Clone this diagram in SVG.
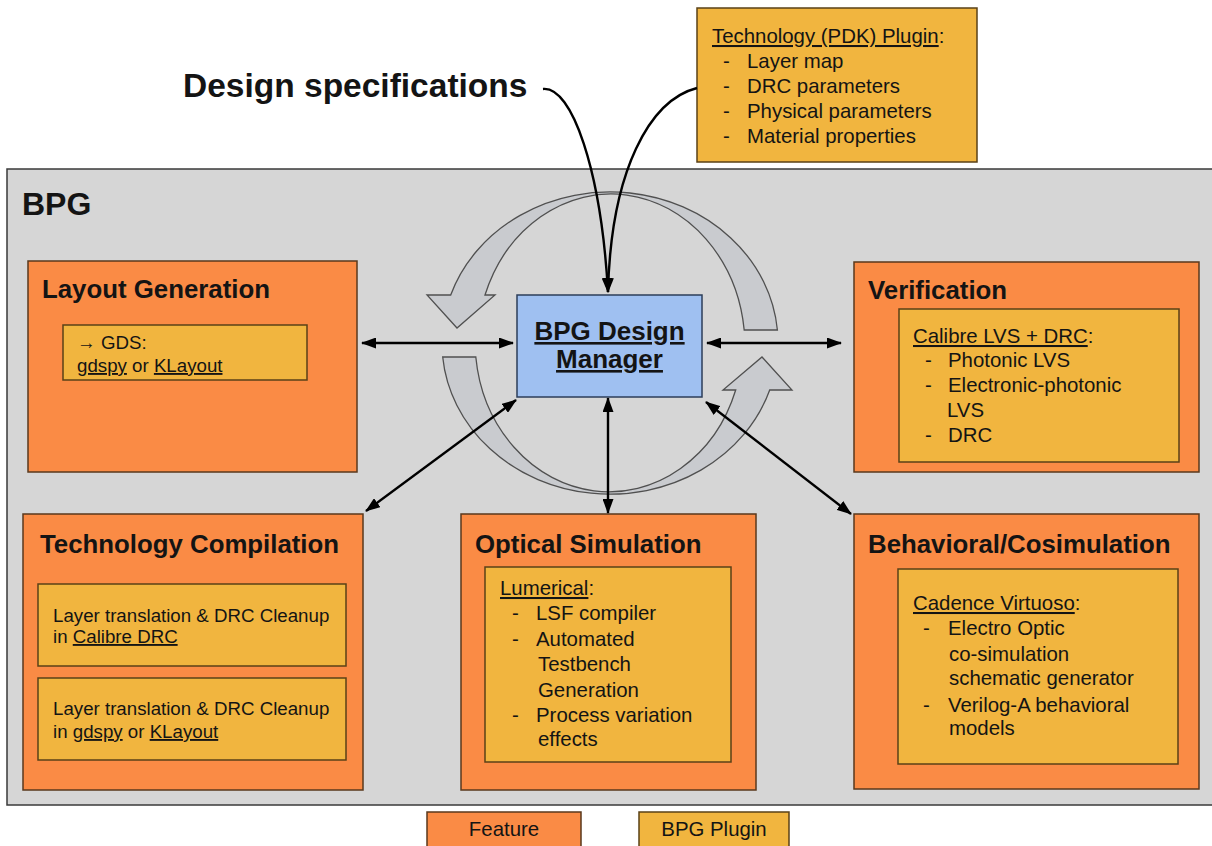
<svg xmlns="http://www.w3.org/2000/svg" width="1212" height="846" viewBox="0 0 1212 846">
<style>
text{font-family:"Liberation Sans",Arial,sans-serif;fill:#141414}
.t{font-weight:bold;font-size:25.8px}
.b{font-size:20.4px}
.s{font-size:18.7px}
.u{text-decoration:underline}
.feat{fill:#fa8b45;stroke:#5a391d;stroke-width:1.5}
.plug{fill:#f1b53f;stroke:#5a4117;stroke-width:1.5}
.ring{fill:#c9cbcf;stroke:#505050;stroke-width:1.3}
.con{fill:none;stroke:#000;stroke-width:2.4}
</style>
<defs>
<marker id="ah" viewBox="0 0 15 11" refX="14" refY="5.5" markerWidth="15" markerHeight="11" markerUnits="userSpaceOnUse" orient="auto-start-reverse">
<path d="M0,0 L15,5.5 L0,11 z" fill="#000"/>
</marker>
</defs>
<rect width="1212" height="846" fill="#fff"/>

<g id="bpg">
<rect x="7" y="169" width="1215" height="636" fill="#d6d6d6" stroke="#3a3a3a" stroke-width="1.5"/>
<text x="22" y="215" style="font-weight:bold;font-size:32px">BPG</text>
</g>

<g id="design-specs">
<text x="183" y="97" style="font-weight:bold;font-size:33.5px">Design specifications</text>
</g>

<g id="pdk-plugin">
<rect class="plug" x="697" y="8" width="280" height="154"/>
<text class="b" x="712" y="43"><tspan class="u">Technology (PDK) Plugin</tspan>:</text>
<text class="b" x="723" y="68">-</text><text class="b" x="747" y="68">Layer map</text>
<text class="b" x="723" y="93">-</text><text class="b" x="747" y="93">DRC parameters</text>
<text class="b" x="723" y="118">-</text><text class="b" x="747" y="118">Physical parameters</text>
<text class="b" x="723" y="143">-</text><text class="b" x="747" y="143">Material properties</text>
</g>

<g id="cycle-arrows">
<path class="ring" d="M777.4,330 A168,151 0 0 0 450.7,295 L427,295 L457,328 L495,295 L485,295 A134,153 0 0 1 744.2,330 Z"/>
<path class="ring" d="M442.7,357 A168,151 0 0 0 769.7,390 L792,390 L762,357 L723,390 L735.7,390 A134,151 0 0 1 475.8,357 Z"/>
</g>

<g id="layout-generation">
<rect class="feat" x="28" y="261" width="329" height="211"/>
<text class="t" x="42" y="298">Layout Generation</text>
<rect class="plug" x="63" y="325" width="244" height="55"/>
<text class="s" x="77" y="349">→ GDS:</text>
<text class="s" x="77" y="372"><tspan class="u">gdspy</tspan> or <tspan class="u">KLayout</tspan></text>
</g>

<g id="verification">
<rect class="feat" x="854" y="262" width="345" height="210"/>
<text class="t" x="868" y="299">Verification</text>
<rect class="plug" x="899" y="309" width="280" height="153"/>
<text class="b" x="913" y="343"><tspan class="u">Calibre LVS + DRC</tspan>:</text>
<text class="b" x="925" y="367">-</text><text class="b" x="948" y="367">Photonic LVS</text>
<text class="b" x="925" y="392">-</text><text class="b" x="948" y="392">Electronic-photonic</text>
<text class="b" x="947" y="417">LVS</text>
<text class="b" x="925" y="442">-</text><text class="b" x="948" y="442">DRC</text>
</g>

<g id="technology-compilation">
<rect class="feat" x="23" y="514" width="340" height="276"/>
<text class="t" x="40" y="553">Technology Compilation</text>
<rect class="plug" x="38" y="584" width="308" height="82"/>
<text class="s" x="53" y="622">Layer translation &amp; DRC Cleanup</text>
<text class="s" x="53" y="643">in <tspan class="u">Calibre DRC</tspan></text>
<rect class="plug" x="38" y="678" width="308" height="82"/>
<text class="s" x="53" y="715">Layer translation &amp; DRC Cleanup</text>
<text class="s" x="53" y="738">in <tspan class="u">gdspy</tspan> or <tspan class="u">KLayout</tspan></text>
</g>

<g id="optical-simulation">
<rect class="feat" x="461" y="514" width="295" height="276"/>
<text class="t" x="475" y="553">Optical Simulation</text>
<rect class="plug" x="485" y="567" width="246" height="195"/>
<text class="b" x="500" y="595"><tspan class="u">Lumerical</tspan>:</text>
<text class="b" x="512" y="620">-</text><text class="b" x="536" y="620">LSF compiler</text>
<text class="b" x="512" y="646">-</text><text class="b" x="536" y="646">Automated</text>
<text class="b" x="538" y="671">Testbench</text>
<text class="b" x="538" y="697">Generation</text>
<text class="b" x="512" y="722">-</text><text class="b" x="536" y="722">Process variation</text>
<text class="b" x="538" y="746">effects</text>
</g>

<g id="behavioral-cosimulation">
<rect class="feat" x="854" y="514" width="345" height="275"/>
<text class="t" x="868" y="553">Behavioral/Cosimulation</text>
<rect class="plug" x="898" y="569" width="280" height="195"/>
<text class="b" x="913" y="610"><tspan class="u">Cadence Virtuoso</tspan>:</text>
<text class="b" x="923" y="635">-</text><text class="b" x="948" y="635">Electro Optic</text>
<text class="b" x="949" y="661">co-simulation</text>
<text class="b" x="949" y="685">schematic generator</text>
<text class="b" x="923" y="712">-</text><text class="b" x="948" y="712">Verilog-A behavioral</text>
<text class="b" x="949" y="735">models</text>
</g>

<g id="connectors">
<path class="con" d="M543,89 C572,86 601,170 608,292" marker-end="url(#ah)"/>
<path class="con" d="M697,88 C650,100 611,170 608,292" marker-end="url(#ah)"/>
<path class="con" d="M362,343 L513,343" marker-start="url(#ah)" marker-end="url(#ah)"/>
<path class="con" d="M707,343 L841,343" marker-start="url(#ah)" marker-end="url(#ah)"/>
<path class="con" d="M516,400 L366,511" marker-start="url(#ah)" marker-end="url(#ah)"/>
<path class="con" d="M608,398 L608,513" marker-start="url(#ah)" marker-end="url(#ah)"/>
<path class="con" d="M706,402 L851,514" marker-start="url(#ah)" marker-end="url(#ah)"/>
</g>

<g id="design-manager">
<rect x="517" y="295" width="185" height="102" fill="#9fc0f1" stroke="#2d3e5a" stroke-width="1.5"/>
<text x="609.5" y="340" text-anchor="middle" style="font-weight:bold;font-size:26px" class="u">BPG Design</text>
<text x="609.5" y="368" text-anchor="middle" style="font-weight:bold;font-size:26px" class="u">Manager</text>
</g>

<g id="legend-feature">
<rect class="feat" x="427" y="812" width="154" height="50"/>
<text class="b" x="504" y="836" text-anchor="middle">Feature</text>
</g>
<g id="legend-plugin">
<rect class="plug" x="639" y="812" width="150" height="50"/>
<text class="b" x="714" y="836" text-anchor="middle">BPG Plugin</text>
</g>
</svg>
